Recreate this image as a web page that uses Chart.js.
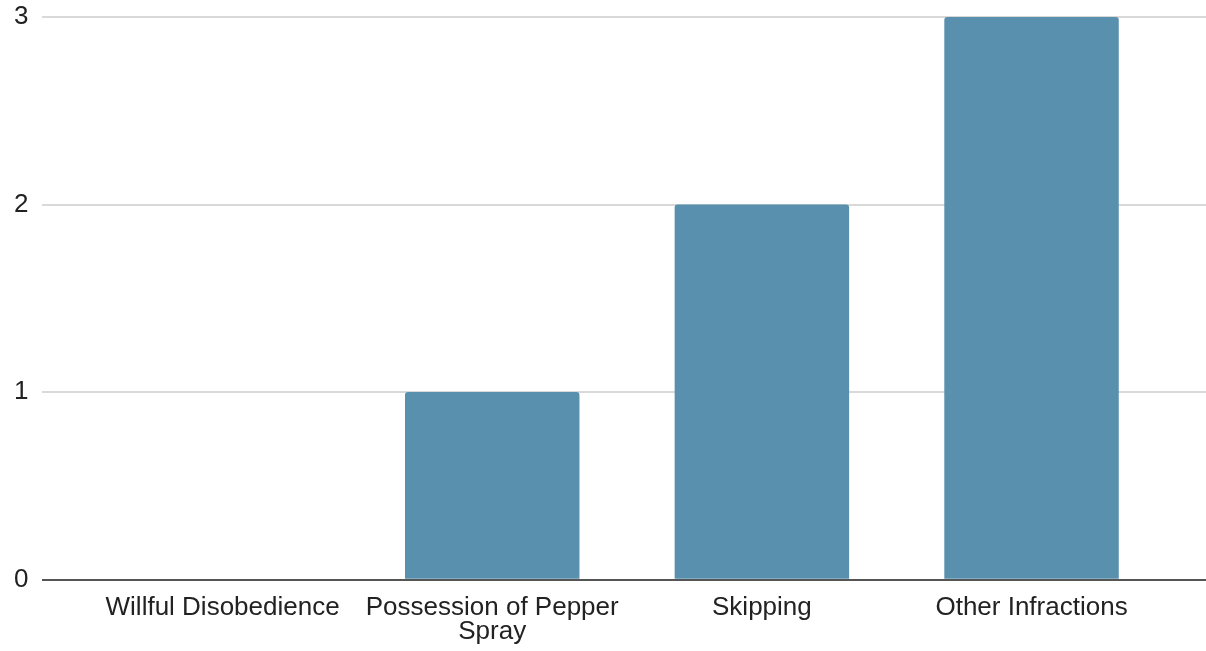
<!DOCTYPE html>
<html>
<head>
<meta charset="utf-8">
<script src="https://cdn.jsdelivr.net/npm/chart.js@4.4.1/dist/chart.umd.min.js"></script>
<style>
  html, body { margin: 0; padding: 0; background: #ffffff; }
  #wrap { width: 1206px; height: 651px; position: relative; }
</style>
</head>
<body>
<div id="wrap"><canvas id="chart"></canvas></div>
<script>
// Infraction categories and their counts
const categories = ['Willful Disobedience', 'Possession of Pepper Spray', 'Skipping', 'Other Infractions'];
const counts = [0, 1, 2, 3];
// Axis tick labels (the long category wraps onto two lines)
const tickLabels = [['Willful Disobedience'], ['Possession of Pepper', 'Spray'], ['Skipping'], ['Other Infractions']];
const yTicks = [0, 1, 2, 3];

const points = categories.map((c, i) => ({ x: i, y: counts[i] }));

const font = { family: "'Liberation Sans', Arial, sans-serif", size: 26, lineHeight: 0.93 };

new Chart(document.getElementById('chart'), {
  type: 'bar',
  data: {
    datasets: [{
      label: 'Count',
      data: points,
      backgroundColor: '#5890ae',
      borderRadius: 3,
      borderSkipped: 'start',
      barPercentage: 0.647,
      categoryPercentage: 1
    }]
  },
  options: {
    responsive: true,
    maintainAspectRatio: false,
    animation: false,
    layout: { padding: { left: 0, top: 17, right: 0, bottom: -9 } },
    plugins: { legend: { display: false }, tooltip: { enabled: false } },
    scales: {
      x: {
        type: 'linear',
        offset: false,
        min: -0.668,
        max: 3.647,
        grid: { display: false, drawTicks: false, offset: false },
        border: { display: false },
        afterBuildTicks: (scale) => { scale.ticks = categories.map((c, i) => ({ value: i })); },
        ticks: {
          autoSkip: false,
          maxRotation: 0,
          padding: 16,
          color: '#222222',
          font: font,
          callback: (v) => tickLabels[v]
        }
      },
      y: {
        min: 0,
        max: 3,
        afterBuildTicks: (scale) => { scale.ticks = yTicks.map(v => ({ value: v })); },
        // let the outer layout padding alone decide the top edge
        afterFit: (scale) => { scale.paddingTop = 0; scale.paddingBottom = 0; },
        grid: {
          drawTicks: false,
          color: (ctx) => ctx.tick && ctx.tick.value === 0 ? '#555555' : '#d9d9d9',
          lineWidth: 2
        },
        border: { display: false },
        ticks: {
          padding: 14,
          color: '#222222',
          font: font
        }
      }
    }
  }
});
</script>
</body>
</html>
